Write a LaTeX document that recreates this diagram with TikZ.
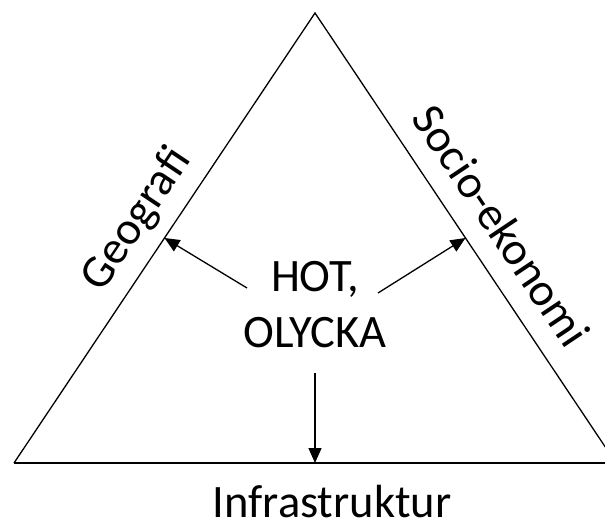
\documentclass[tikz,border=0pt]{standalone}
\usepackage{fontspec}
\setmainfont{Carlito}
\usetikzlibrary{arrows.meta,calc}
\tikzstyle{side} = [line width=1.3pt, black]
\tikzstyle{lbl} = [font=\fontsize{46.5}{56}\selectfont, inner sep=0pt]

\begin{document}
\begin{tikzpicture}[x=1pt,y=1pt,
			arr/.style = {line width=1.3pt, -{Triangle[length=15pt,width=13pt]}},
			bottomline/.style = {side, line width=2pt}]
			\useasboundingbox (0,0) rectangle (605,520);
			\clip (0,0) rectangle (605,520);
			\coordinate (apex) at (315,507);
			\coordinate (bl) at (14,57);
			\coordinate (br) at (616,57);
			\coordinate (geo) at ($(bl)!0.5!(apex)$);
			\coordinate (soc) at ($(br)!0.5!(apex)$);
			\coordinate (inf) at ($(bl)!0.5!(br)$);
			\draw [side] (bl) -- (apex) -- (br);
			\draw [bottomline] (bl) -- (br);
			\node (hot) [lbl, align=center] at (315,215) {HOT,\\OLYCKA};
			\node (geotxt) [lbl, rotate=56.2, anchor=base] at ($(geo)!21pt!90:(apex)$) {Geografi};
			\node (soctxt) [lbl, rotate=-56.2, anchor=base] at ($(soc)!10pt!(br)!21pt!90:(br)$) {Socio-ekonomi};
			\node (inftxt) [lbl, anchor=base] at (332,3) {Infrastruktur};
			\coordinate (t1) at (247,232);
			\coordinate (t2) at (378,227);
			\coordinate (t3) at (315,147);
			\draw [arr] (t1) -- (geo);
			\draw [arr] (t2) -- (soc);
			\draw [arr] (t3) -- (inf);
		\end{tikzpicture}
\end{document}
